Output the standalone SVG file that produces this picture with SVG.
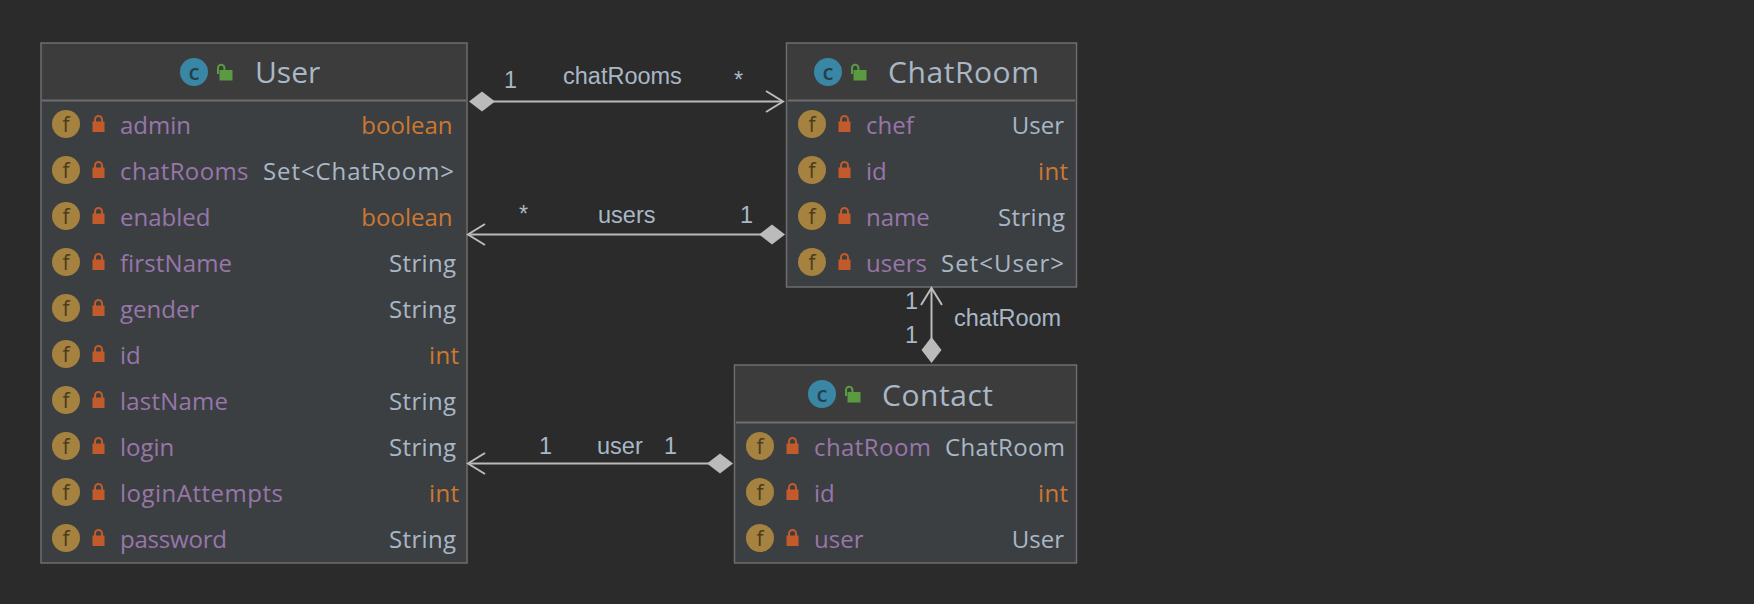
<svg xmlns="http://www.w3.org/2000/svg" width="1754" height="604" viewBox="0 0 1754 604">
<style>
text{font-family:"Open Sans","Noto Sans","Liberation Sans",sans-serif}
.box{fill:#3c3f41;stroke:#6e6e6e;stroke-width:1.5}
.head{fill:#3c3c3c}
.sep{stroke:#6e6e6e;stroke-width:2}
.title{font-size:30px;fill:#a9b7c6}
.n{font-size:24px;fill:#9876aa}
.t{font-size:24px;fill:#a9b7c6;text-anchor:end}
.k{font-size:24px;fill:#cc7832;text-anchor:end}
.fc{fill:#a5823f}
.ft{font-size:21px;fill:#4a3c1c;text-anchor:middle}
.cc{fill:#3a87a5}
.ct{font-size:22px;font-weight:600;fill:#23404f;text-anchor:middle}
.lock{fill:#c25a2c}
.lockh{fill:none;stroke:#c25a2c;stroke-width:2}
.open{fill:#5a9a40}
.openh{fill:none;stroke:#5a9a40;stroke-width:2}
.line{stroke:#bbbbbb;stroke-width:2;fill:none}
.dia{fill:#bbbbbb}
.lbl{font-family:"Liberation Sans",sans-serif;font-size:23.500px;fill:#a9b7c6}
</style>
<defs>
<g id="field"><circle class="fc" cx="0" cy="0" r="14"/><text class="ft" x="0" y="7.500">f</text><rect class="lock" x="26.500" y="-2.500" width="12" height="10.500"/><path class="lockh" d="M29 -2v-2.500a3.500 3.500 0 0 1 7 0v2.500"/></g>
<g id="cls"><circle class="cc" cx="0" cy="0" r="14"/><text class="ct" x="0" y="7.500">c</text><rect class="open" x="25.500" y="-2" width="13" height="10.500"/><path class="openh" d="M24 2v-6a3.200 3.200 0 0 1 6.400 0v2"/></g>
</defs>
<rect width="1754" height="604" fill="#2b2b2b"/>
<g id="User">
<rect class="box" x="41" y="43" width="426" height="520"/>
<rect class="head" x="42" y="44" width="424" height="56"/>
<line class="sep" x1="42" y1="100.500" x2="466" y2="100.500"/>
<use href="#cls" x="194" y="72"/>
<text class="title" x="255" y="83">User</text>
<use href="#field" x="66" y="124"/><text class="n" x="120" y="134">admin</text><text class="k" x="452.500" y="134">boolean</text>
<use href="#field" x="66" y="170"/><text class="n" x="120" y="180" textLength="128.500">chatRooms</text><text class="t" x="454" y="180" textLength="191">Set&lt;ChatRoom&gt;</text>
<use href="#field" x="66" y="216"/><text class="n" x="120" y="226">enabled</text><text class="k" x="452.500" y="226">boolean</text>
<use href="#field" x="66" y="262"/><text class="n" x="120" y="272" textLength="112">firstName</text><text class="t" x="456" y="272" textLength="67">String</text>
<use href="#field" x="66" y="308"/><text class="n" x="120" y="318">gender</text><text class="t" x="456" y="318" textLength="67">String</text>
<use href="#field" x="66" y="354"/><text class="n" x="120" y="364">id</text><text class="k" x="459" y="364" textLength="30">int</text>
<use href="#field" x="66" y="400"/><text class="n" x="120" y="410" textLength="108">lastName</text><text class="t" x="456" y="410" textLength="67">String</text>
<use href="#field" x="66" y="446"/><text class="n" x="120" y="456">login</text><text class="t" x="456" y="456" textLength="67">String</text>
<use href="#field" x="66" y="492"/><text class="n" x="120" y="502" textLength="163">loginAttempts</text><text class="k" x="459" y="502" textLength="30">int</text>
<use href="#field" x="66" y="538"/><text class="n" x="120" y="548" textLength="107">password</text><text class="t" x="456" y="548" textLength="67">String</text>
</g>
<g id="ChatRoom">
<rect class="box" x="786.500" y="43" width="290" height="244"/>
<rect class="head" x="787.500" y="44" width="288" height="56"/>
<line class="sep" x1="788" y1="100.500" x2="1075" y2="100.500"/>
<use href="#cls" x="828" y="72"/>
<text class="title" x="888" y="83" textLength="151">ChatRoom</text>
<use href="#field" x="812" y="124"/><text class="n" x="866" y="134">chef</text><text class="t" x="1064" y="134">User</text>
<use href="#field" x="812" y="170"/><text class="n" x="866" y="180">id</text><text class="k" x="1068" y="180" textLength="30">int</text>
<use href="#field" x="812" y="216"/><text class="n" x="866" y="226">name</text><text class="t" x="1065" y="226" textLength="67">String</text>
<use href="#field" x="812" y="262"/><text class="n" x="866" y="272">users</text><text class="t" x="1064" y="272" textLength="123">Set&lt;User&gt;</text>
</g>
<g id="Contact">
<rect class="box" x="734.500" y="365" width="342" height="198"/>
<rect class="head" x="735.500" y="366" width="340" height="56"/>
<line class="sep" x1="736" y1="422.500" x2="1075" y2="422.500"/>
<use href="#cls" x="822" y="394"/>
<text class="title" x="882" y="405.500" textLength="111">Contact</text>
<use href="#field" x="760" y="446"/><text class="n" x="814" y="456" textLength="117">chatRoom</text><text class="t" x="1065" y="456" textLength="120">ChatRoom</text>
<use href="#field" x="760" y="492"/><text class="n" x="814" y="502">id</text><text class="k" x="1068" y="502" textLength="30">int</text>
<use href="#field" x="760" y="538"/><text class="n" x="814" y="548">user</text><text class="t" x="1064" y="548">User</text>
</g>
<g id="connectors">
<line class="line" x1="490" y1="101.500" x2="782" y2="101.500"/>
<path class="line" d="M766 91l17 10.500l-17 10.500"/>
<path class="dia" d="M469 101.500l13-10l13 10l-13 10z"/>
<text class="lbl" x="504" y="88">1</text><text class="lbl" x="563" y="84">chatRooms</text><text class="lbl" x="734" y="88">*</text>
<line class="line" x1="470" y1="234.500" x2="765" y2="234.500"/>
<path class="line" d="M485 224l-17 10.500l17 10.500"/>
<path class="dia" d="M759 234.500l13-10l13 10l-13 10z"/>
<text class="lbl" x="519" y="222">*</text><text class="lbl" x="598" y="223">users</text><text class="lbl" x="740" y="223">1</text>
<line class="line" x1="470" y1="463.500" x2="712" y2="463.500"/>
<path class="line" d="M485 453l-17 10.500l17 10.500"/>
<path class="dia" d="M707 463.500l13-10l13 10l-13 10z"/>
<text class="lbl" x="539" y="454">1</text><text class="lbl" x="597" y="454">user</text><text class="lbl" x="664" y="454">1</text>
<line class="line" x1="931.500" y1="289" x2="931.500" y2="342"/>
<path class="line" d="M921 305l10.500-17l10.500 17"/>
<path class="dia" d="M931.500 337l10 13l-10 13l-10-13z"/>
<text class="lbl" x="905" y="309">1</text><text class="lbl" x="905" y="343">1</text><text class="lbl" x="954" y="326">chatRoom</text>
</g>
</svg>
